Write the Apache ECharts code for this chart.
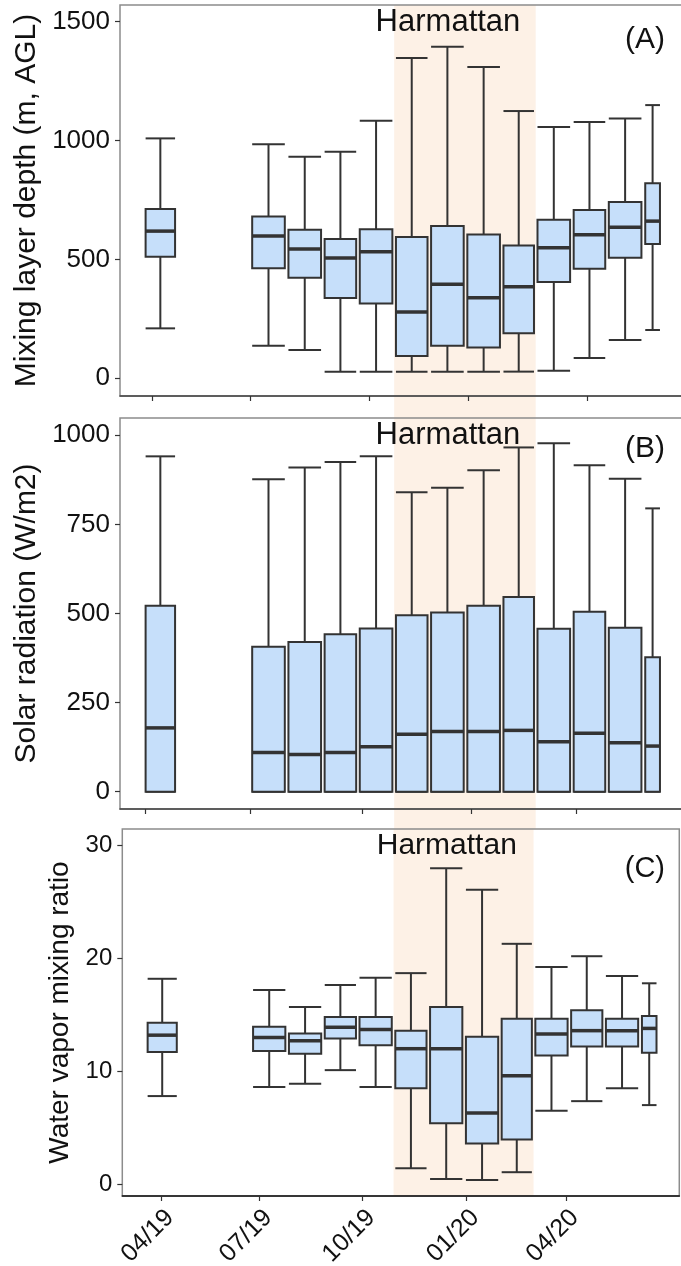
<!DOCTYPE html>
<html>
<head>
<meta charset="utf-8">
<script src="https://cdn.jsdelivr.net/npm/echarts@6/dist/echarts.min.js"></script>
<style>
  html, body { margin: 0; padding: 0; background: #ffffff; }
  #chart { width: 681px; height: 1266px; }
</style>
</head>
<body>
<div id="chart"></div>
<script>
// Monthly box plots (min, Q1, median, Q3, max) of three boundary-layer quantities,
// April 2019 – June 2020, with the Harmattan season shaded.

// Months with data and the period each month's record covers
const months        = ['04/19', '07/19', '08/19', '09/19', '10/19', '11/19', '12/19', '01/20', '02/20', '03/20', '04/20', '05/20', '06/20'];
const coverageStart = ['2019-04-01', '2019-07-01', '2019-08-01', '2019-09-01', '2019-10-01', '2019-11-01', '2019-12-01', '2020-01-01', '2020-02-01', '2020-03-01', '2020-04-01', '2020-05-01', '2020-06-02'];
const coverageEnd   = ['2019-04-29', '2019-08-01', '2019-09-01', '2019-10-01', '2019-11-01', '2019-12-01', '2020-01-01', '2020-02-01', '2020-03-01', '2020-04-01', '2020-05-01', '2020-06-01', '2020-06-16'];

// [min, Q1, median, Q3, max] per month
const mixingLayerDepth = [
  [210, 511, 619, 712, 1009],
  [137, 463, 598, 680, 984],
  [119, 423, 544, 625, 932],
  [28, 338, 506, 586, 953],
  [28, 315, 532, 627, 1083],
  [28, 94, 279, 594, 1347],
  [28, 137, 395, 640, 1394],
  [28, 129, 339, 605, 1309],
  [28, 189, 385, 559, 1124],
  [32, 405, 549, 667, 1057],
  [85, 461, 604, 708, 1078],
  [161, 507, 635, 741, 1093],
  [203, 565, 661, 820, 1149]
];
const solarRadiation = [
  [0, 0, 179, 522, 941],
  [0, 0, 110, 407, 877],
  [0, 0, 104, 420, 910],
  [0, 0, 110, 442, 925],
  [0, 0, 126, 458, 941],
  [0, 0, 161, 495, 840],
  [0, 0, 169, 503, 853],
  [0, 0, 169, 522, 902],
  [0, 0, 172, 546, 966],
  [0, 0, 140, 457, 978],
  [0, 0, 164, 505, 916],
  [0, 0, 137, 460, 878],
  [0, 0, 128, 377, 795]
];
const waterVaporMixingRatio = [
  [7.8, 11.7, 13.2, 14.3, 18.2],
  [8.6, 11.8, 13.0, 13.95, 17.2],
  [8.9, 11.55, 12.7, 13.35, 15.7],
  [10.1, 12.9, 13.9, 14.8, 17.65],
  [8.6, 12.3, 13.7, 14.8, 18.3],
  [1.4, 8.5, 12.0, 13.6, 18.7],
  [0.45, 5.4, 12.0, 15.7, 28.0],
  [0.35, 3.6, 6.3, 13.05, 26.1],
  [1.05, 3.95, 9.6, 14.65, 21.3],
  [6.5, 11.4, 13.3, 14.65, 19.25],
  [7.35, 12.2, 13.6, 15.4, 20.2],
  [8.5, 12.2, 13.6, 14.65, 18.45],
  [7.0, 11.65, 13.8, 14.9, 17.8]
];

// Harmattan season
const harmattanPeriod = ['2019-11-01', '2020-03-01'];
const harmattanLabelDate = '2019-12-17';

// Axis ticks of each panel
const tickLabels = ['04/19', '07/19', '10/19', '01/20', '04/20'];
const tickDatesA = ['2019-04-08', '2019-07-01', '2019-10-11', '2020-01-03', '2020-04-14'];
const tickDatesB = ['2019-04-02', '2019-07-01', '2019-10-05', '2020-01-06', '2020-04-05'];
const tickDatesC = ['2019-04-14', '2019-07-08', '2019-10-05', '2020-01-03', '2020-03-29'];

const yTicksA = [0, 500, 1000, 1500];
const yTicksB = [0, 250, 500, 750, 1000];
const yTicksC = [0, 10, 20, 30];

// ---- helpers -------------------------------------------------------------
const T0 = Date.UTC(2019, 3, 1);
function dayOf(s) { return (Date.parse(s + 'T00:00:00Z') - T0) / 864e5; }

const FONT = "'Liberation Sans', Arial, Helvetica, sans-serif";
const INK = '#111111';
const EDGE = '#333333';
const FILL = '#c6dffa';
const SHADE = '#fdf1e6';
const FRAME = '#8c8c8c';
const X_RANGE = [-20.5, 461];   // days since 2019-04-01

// box geometry follows the covered period: centred on it, 90% of its length wide
function boxRows(stats) {
  return months.map(function (m, i) {
    const s = dayOf(coverageStart[i]);
    const e = dayOf(coverageEnd[i]);
    return [(s + e) / 2, 0.9 * (e - s)].concat(stats[i]);
  });
}

function renderBox(params, api) {
  const xc = api.value(0);
  const half = api.value(1) / 2;
  const xl = api.coord([xc - half, 0])[0];
  const xr = api.coord([xc + half, 0])[0];
  const xm = api.coord([xc, 0])[0];
  const y = function (dim) { return api.coord([xc, api.value(dim)])[1]; };
  const yMin = y(2), yQ1 = y(3), yMed = y(4), yQ3 = y(5), yMax = y(6);
  const ln = function () { return { stroke: EDGE, lineWidth: 2 }; };
  return {
    type: 'group',
    children: [
      { type: 'line', shape: { x1: xm, y1: yMin, x2: xm, y2: yQ1 }, style: ln() },
      { type: 'line', shape: { x1: xm, y1: yQ3, x2: xm, y2: yMax }, style: ln() },
      { type: 'line', shape: { x1: xl, y1: yMin, x2: xr, y2: yMin }, style: ln() },
      { type: 'line', shape: { x1: xl, y1: yMax, x2: xr, y2: yMax }, style: ln() },
      { type: 'rect', shape: { x: xl, y: yQ3, width: xr - xl, height: yQ1 - yQ3 },
        style: { fill: FILL, stroke: EDGE, lineWidth: 2 } },
      { type: 'line', shape: { x1: xl, y1: yMed, x2: xr, y2: yMed },
        style: { stroke: EDGE, lineWidth: 3.5 } }
    ]
  };
}

// shaded season band (reaching down through the gap below the panel) and its label
function shadeRenderer(extendBelow, fontSize) {
  return function (params, api) {
    const cs = params.coordSys;
    const x0 = api.coord([api.value(0), 0])[0];
    const x1 = api.coord([api.value(1), 0])[0];
    const tx = api.coord([dayOf(harmattanLabelDate), 0])[0];
    return {
      type: 'group',
      children: [
        { type: 'rect', shape: { x: x0, y: cs.y, width: x1 - x0, height: cs.height + extendBelow },
          style: { fill: SHADE } },
        { type: 'text', x: tx, y: cs.y + 17,
          style: { text: 'Harmattan', fill: INK, fontSize: fontSize, fontFamily: FONT,
                   align: 'center', verticalAlign: 'middle' } }
      ]
    };
  };
}

const grids = [
  { left: 120, top: 5, width: 563, height: 391 },
  { left: 120, top: 418, width: 563, height: 391 },
  { left: 122.3, top: 829, width: 557, height: 367 }
].map(function (g) {
  return Object.assign(g, {
    show: true, z: 10, backgroundColor: 'rgba(0,0,0,0)',
    borderColor: FRAME, borderWidth: 1.5,
    containLabel: false, outerBoundsMode: 'none'
  });
});

function xAxisFor(idx, tickDates, showLabels, lineColor) {
  const vals = tickDates.map(dayOf);
  return {
    type: 'value', gridIndex: idx, position: 'bottom', min: X_RANGE[0], max: X_RANGE[1], z: 12,
    splitLine: { show: false },
    axisLine: { show: true, onZero: false, lineStyle: { color: lineColor, width: 1.5 } },
    axisTick: { show: true, length: 5, customValues: vals, lineStyle: { color: EDGE, width: 1.2 } },
    axisLabel: {
      show: showLabels, customValues: vals, rotate: 45, margin: 9,
      align: 'right', verticalAlign: 'top',
      fontSize: 25, color: INK, fontFamily: FONT,
      formatter: function (v) {
        let best = 0;
        vals.forEach(function (t, i) { if (Math.abs(t - v) < Math.abs(vals[best] - v)) best = i; });
        return tickLabels[best];
      }
    }
  };
}

function yAxisFor(idx, name, range, ticks, labelSize, nameSize, nameGap) {
  return {
    type: 'value', gridIndex: idx, position: 'left', min: range[0], max: range[1], z: 12,
    name: name, nameLocation: 'middle', nameGap: nameGap,
    nameTextStyle: { fontSize: nameSize, color: INK, fontFamily: FONT },
    splitLine: { show: false },
    axisLine: { show: false, onZero: false },
    axisTick: { show: true, length: 5, customValues: ticks, lineStyle: { color: EDGE, width: 1.2 } },
    axisLabel: {
      customValues: ticks, fontSize: labelSize, color: INK, fontFamily: FONT, margin: 10,
      formatter: function (v) { return String(v); }
    }
  };
}

const shadeData = [[dayOf(harmattanPeriod[0]), dayOf(harmattanPeriod[1])]];

const option = {
  backgroundColor: '#ffffff',
  animation: false,
  grid: grids,
  title: [
    { text: '(A)', right: 11, top: 20, textStyle: { fontSize: 30, fontWeight: 'normal', color: INK, fontFamily: FONT } },
    { text: '(B)', right: 11, top: 429, textStyle: { fontSize: 30, fontWeight: 'normal', color: INK, fontFamily: FONT } },
    { text: '(C)', right: 11, top: 849, textStyle: { fontSize: 29, fontWeight: 'normal', color: INK, fontFamily: FONT } }
  ],
  xAxis: [
    xAxisFor(0, tickDatesA, false, '#444'),
    xAxisFor(1, tickDatesB, false, '#444'),
    xAxisFor(2, tickDatesC, true, '#111')
  ],
  yAxis: [
    yAxisFor(0, 'Mixing layer depth (m, AGL)', [-74.5, 1570], yTicksA, 26, 30, 76),
    yAxisFor(1, 'Solar radiation (W/m2)', [-48.6, 1048.6], yTicksB, 26, 30, 76),
    yAxisFor(2, 'Water vapor mixing ratio', [-1.06, 31.48], yTicksC, 24, 28, 41)
  ],
  series: [
    { type: 'custom', xAxisIndex: 0, yAxisIndex: 0, z: 1, silent: true, renderItem: shadeRenderer(22, 31), data: shadeData, encode: { x: [0, 1] } },
    { type: 'custom', xAxisIndex: 1, yAxisIndex: 1, z: 1, silent: true, renderItem: shadeRenderer(20, 31), data: shadeData, encode: { x: [0, 1] } },
    { type: 'custom', xAxisIndex: 2, yAxisIndex: 2, z: 1, silent: true, renderItem: shadeRenderer(0, 30), data: shadeData, encode: { x: [0, 1] } },
    { type: 'custom', xAxisIndex: 0, yAxisIndex: 0, z: 2, renderItem: renderBox, data: boxRows(mixingLayerDepth), encode: { x: 0, y: [2, 6] } },
    { type: 'custom', xAxisIndex: 1, yAxisIndex: 1, z: 2, renderItem: renderBox, data: boxRows(solarRadiation), encode: { x: 0, y: [2, 6] } },
    { type: 'custom', xAxisIndex: 2, yAxisIndex: 2, z: 2, renderItem: renderBox, data: boxRows(waterVaporMixingRatio), encode: { x: 0, y: [2, 6] } }
  ]
};

const chart = echarts.init(document.getElementById('chart'), null, { renderer: 'canvas' });
chart.setOption(option);
</script>
</body>
</html>
